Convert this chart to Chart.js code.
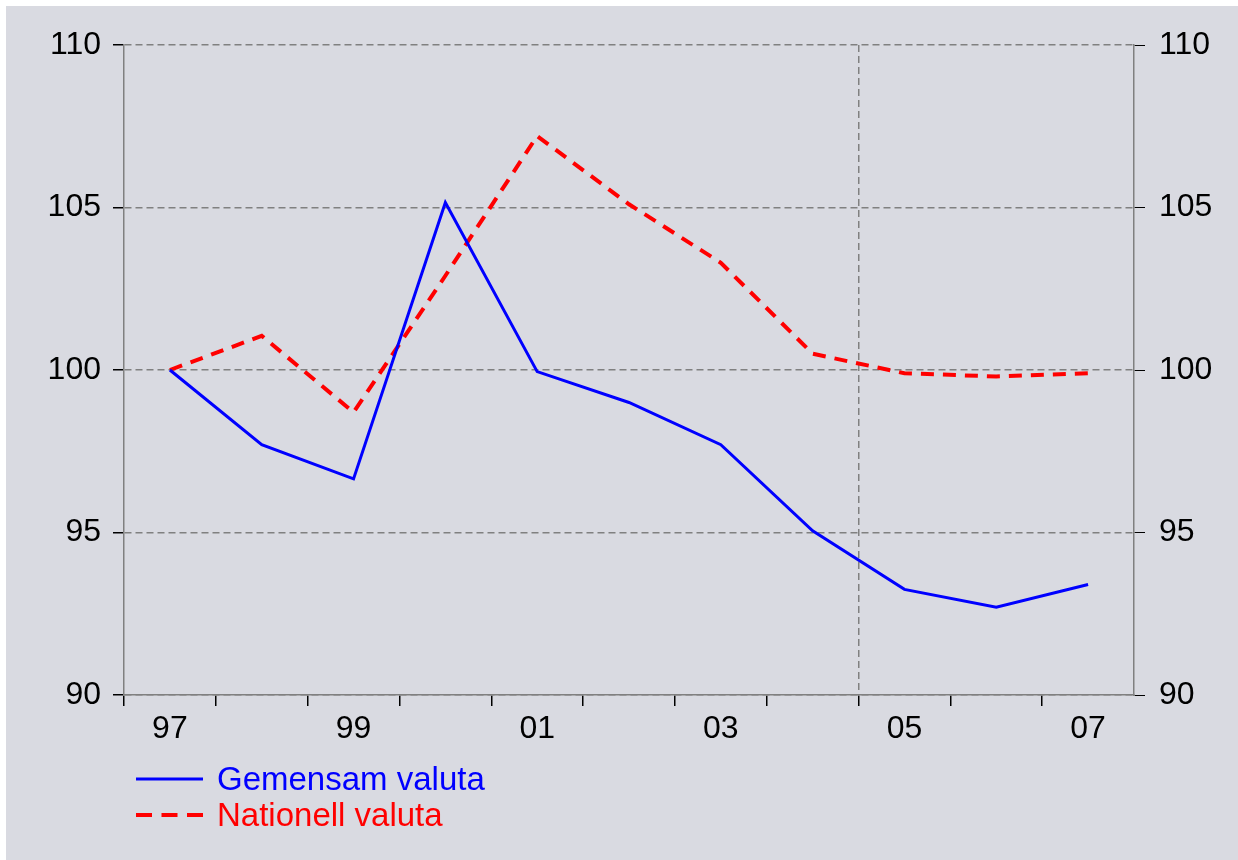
<!DOCTYPE html>
<html>
<head>
<meta charset="utf-8">
<script src="https://cdn.jsdelivr.net/npm/chart.js@4"></script>
<style>
  html, body { margin: 0; padding: 0; background: #ffffff; }
  #wrap {
    position: absolute; left: 6px; top: 6px; width: 1232px; height: 854px;
    background: #d9dae1;
  }
  #legend {
    position: absolute; left: 130px; top: 755px;
    font-family: "Liberation Sans", Arial, sans-serif; font-size: 33px;
  }
  .item { display: flex; align-items: center; height: 36px; }
  .item svg { margin-right: 14px; }
</style>
</head>
<body>
<div id="wrap">
  <canvas id="chart" width="1232" height="854"></canvas>
  <div id="legend"></div>
</div>
<script>
// years (x categories) and the two index series
const years = ['97', '98', '99', '00', '01', '02', '03', '04', '05', '06', '07'];
const gemensam = [100, 97.7, 96.65, 105.15, 99.95, 99.0, 97.7, 95.05, 93.25, 92.7, 93.4];
const nationell = [100, 101.05, 98.7, 102.9, 107.2, 105.1, 103.3, 100.5, 99.9, 99.8, 99.9];
const yTicks = [90, 95, 100, 105, 110];

const fontAxis = { family: '"Liberation Sans", Arial, sans-serif', size: 32 };

const dataChart = {
  labels: years,
  datasets: [
    {
      label: 'Gemensam valuta',
      data: gemensam,
      borderColor: '#0000ff',
      backgroundColor: '#0000ff',
      borderWidth: 3,
      pointRadius: 0,
      tension: 0
    },
    {
      label: 'Nationell valuta',
      data: nationell,
      borderColor: '#ff0000',
      backgroundColor: '#ff0000',
      borderWidth: 4,
      borderDash: [13, 9],
      pointRadius: 0,
      tension: 0
    }
  ]
};

const config = {
  type: 'line',
  data: dataChart,
  options: {
    responsive: false,
    animation: false,
    layout: { padding: { top: 39, bottom: 105, left: 0, right: 0 } },
    plugins: {
      legend: { display: false },
      tooltip: { enabled: false }
    },
    scales: {
      x: {
        offset: true,
        afterFit: (s) => { s.height = 60; },
        grid: {
          offset: true,
          drawOnChartArea: true,
          color: (ctx) => ctx.index === 8 ? '#808080' : 'rgba(0,0,0,0)',
          // the closing line at the right end has no tick context -> no tick mark
          tickColor: (ctx) => ctx.type === 'tick' ? '#000000' : 'rgba(0,0,0,0)',
          tickLength: 11,
          lineWidth: 1.5
        },
        border: { color: '#808080', width: 1.5, dash: [7, 4] },
        ticks: {
          autoSkip: false,
          maxRotation: 0,
          padding: 4,
          color: '#000000',
          font: fontAxis,
          callback: (v, i) => i % 2 === 0 ? years[i] : ''
        }
      },
      y: {
        position: 'left',
        min: 90,
        max: 110,
        afterFit: (s) => { s.width = 118; },
        afterBuildTicks: (s) => { s.ticks = yTicks.map(v => ({ value: v })); },
        grid: {
          color: '#808080',
          lineWidth: 1.5,
          tickColor: '#000000',
          tickLength: 11
        },
        border: { color: '#808080', width: 1.5, dash: [7, 4] },
        ticks: { padding: 12, color: '#000000', font: fontAxis }
      },
      y2: {
        position: 'right',
        min: 90,
        max: 110,
        afterFit: (s) => { s.width = 104; },
        afterBuildTicks: (s) => { s.ticks = yTicks.map(v => ({ value: v })); },
        grid: {
          drawOnChartArea: false,
          tickColor: '#000000',
          tickLength: 11
        },
        border: { color: '#808080', width: 1.5 },
        ticks: { padding: 14, color: '#000000', font: fontAxis }
      }
    }
  }
};

const chart = new Chart(document.getElementById('chart'), config);

// legend built from the datasets
const legendEl = document.getElementById('legend');
chart.data.datasets.forEach(ds => {
  const row = document.createElement('div');
  row.className = 'item';
  const dash = ds.borderDash ? '16,9.5' : 'none';
  row.innerHTML =
    '<svg width="67" height="10"><line x1="0" y1="5" x2="67" y2="5" stroke="' + ds.borderColor +
    '" stroke-width="' + ds.borderWidth + '" stroke-dasharray="' + dash + '"/></svg>' +
    '<span style="color:' + ds.borderColor + '">' + ds.label + '</span>';
  legendEl.appendChild(row);
});
</script>
</body>
</html>
